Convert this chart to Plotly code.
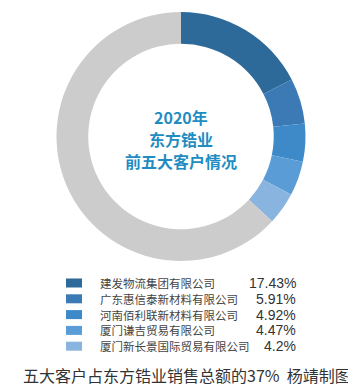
import plotly.graph_objects as go

companies = ["建发物流集团有限公司", "广东惠信泰新材料有限公司", "河南佰利联新材料有限公司",
             "厦门谦吉贸易有限公司", "厦门新长景国际贸易有限公司"]
shares = [17.43, 5.91, 4.92, 4.47, 4.2]
share_labels = ["17.43%", "5.91%", "4.92%", "4.47%", "4.2%"]
other_label = "其他"
title_lines = ["2020年", "东方锆业", "前五大客户情况"]
caption = "五大客户占东方锆业销售总额的37%  杨靖制图"
colors = ["#2d6a9a", "#3b7ab5", "#3e8ac9", "#5a9dd6", "#8ab4e0"]
other_color = "#cdcccc"

W, H = 356, 387
other_share = round(100 - sum(shares), 2)

fig = go.Figure()
fig.add_trace(go.Pie(
    labels=companies + [other_label],
    values=shares + [other_share],
    marker=dict(colors=colors + [other_color], line=dict(width=0)),
    hole=0.745,
    sort=False,
    direction="clockwise",
    rotation=0,
    textinfo="none",
    hoverinfo="label+percent",
    showlegend=False,
    domain=dict(x=[48 / W, 298 / W], y=[1 - 253 / H, 1 - 4 / H]),
))

annotations = []
for k, line in enumerate(title_lines):
    annotations.append(dict(x=173 / W, y=1 - (109 + 22 * k) / H, xref="paper", yref="paper",
                            text="<b>" + line + "</b>", showarrow=False, borderpad=0,
                            font=dict(family="Noto Sans CJK SC", size=16, color="#1f8dc2"),
                            xanchor="center", yanchor="middle"))
annotations.append(dict(x=179 / W, y=1 - 367 / H, xref="paper", yref="paper",
                        text=caption, showarrow=False,
                        font=dict(family="Noto Sans CJK SC", size=16, color="#333333"),
                        xanchor="center", yanchor="middle"))
shapes = []
row_y = [275, 290.8, 306.6, 322.4, 338.2]
for i, (name, lab) in enumerate(zip(companies, share_labels)):
    yc = row_y[i]
    shapes.append(dict(type="rect", xref="paper", yref="paper",
                       x0=58 / W, x1=74 / W, y0=1 - (yc + 4.5) / H, y1=1 - (yc - 4.5) / H,
                       fillcolor=colors[i], line=dict(width=0)))
    annotations.append(dict(x=91 / W, y=1 - yc / H, xref="paper", yref="paper",
                            text=name, showarrow=False, xanchor="left", yanchor="middle",
                            borderpad=0,
                            font=dict(family="Noto Sans CJK SC", size=11.5, color="#444444")))
    annotations.append(dict(x=289 / W, y=1 - yc / H, xref="paper", yref="paper",
                            text=lab, showarrow=False, xanchor="right", yanchor="middle",
                            borderpad=0,
                            font=dict(family="Liberation Sans", size=14, color="#333333")))

fig.update_layout(
    width=W, height=H,
    margin=dict(l=0, r=0, t=0, b=0),
    paper_bgcolor="white", plot_bgcolor="white",
    annotations=annotations, shapes=shapes,
)
fig.write_html("out.html")
